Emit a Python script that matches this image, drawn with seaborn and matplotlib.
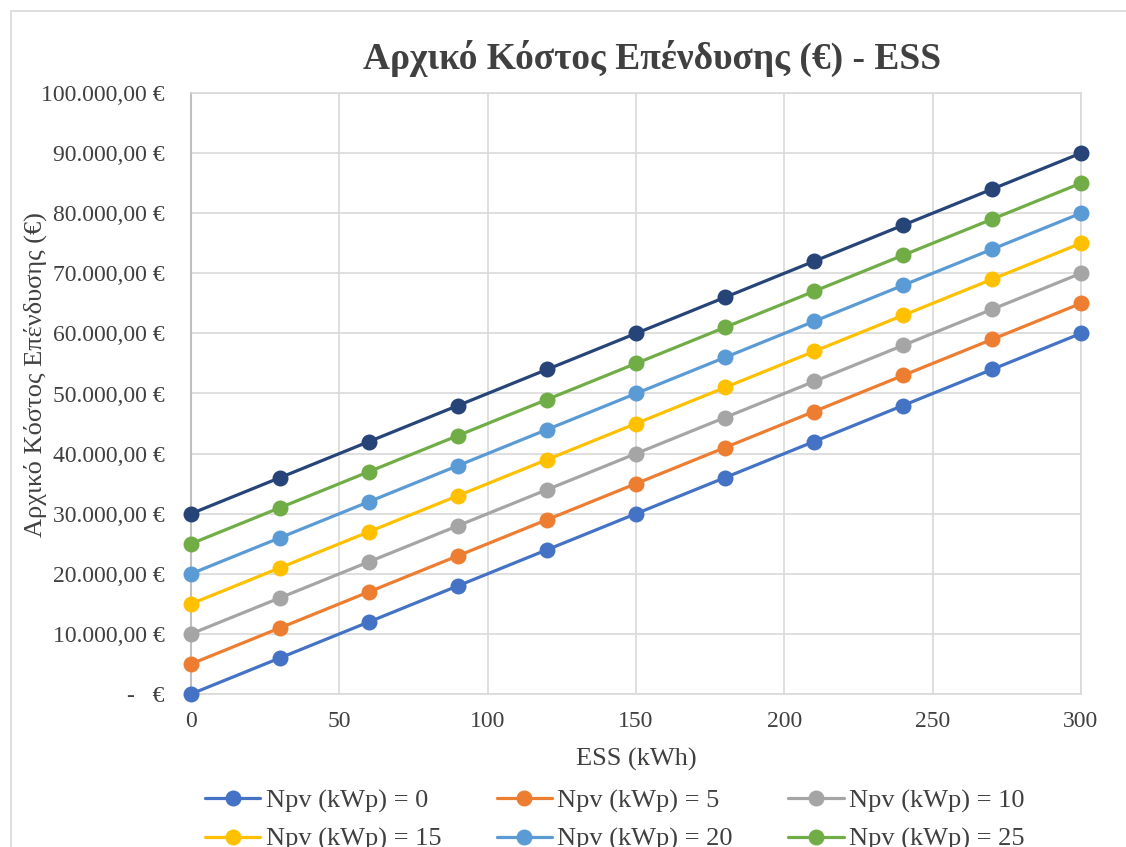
import matplotlib
matplotlib.use("Agg")
import matplotlib.pyplot as plt
import seaborn as sns
import pandas as pd
from matplotlib.ticker import FuncFormatter, MultipleLocator
from matplotlib.patches import Rectangle

# ---- data ----
ess_kwh = [0, 30, 60, 90, 120, 150, 180, 210, 240, 270, 300]
npv_labels = ["Npv (kWp) = 0", "Npv (kWp) = 5", "Npv (kWp) = 10", "Npv (kWp) = 15",
              "Npv (kWp) = 20", "Npv (kWp) = 25", "Npv (kWp) = 30"]
cost_npv0 = [0, 6000, 12000, 18000, 24000, 30000, 36000, 42000, 48000, 54000, 60000]
cost_npv5 = [5000, 11000, 17000, 23000, 29000, 35000, 41000, 47000, 53000, 59000, 65000]
cost_npv10 = [10000, 16000, 22000, 28000, 34000, 40000, 46000, 52000, 58000, 64000, 70000]
cost_npv15 = [15000, 21000, 27000, 33000, 39000, 45000, 51000, 57000, 63000, 69000, 75000]
cost_npv20 = [20000, 26000, 32000, 38000, 44000, 50000, 56000, 62000, 68000, 74000, 80000]
cost_npv25 = [25000, 31000, 37000, 43000, 49000, 55000, 61000, 67000, 73000, 79000, 85000]
cost_npv30 = [30000, 36000, 42000, 48000, 54000, 60000, 66000, 72000, 78000, 84000, 90000]
series = [cost_npv0, cost_npv5, cost_npv10, cost_npv15, cost_npv20, cost_npv25, cost_npv30]
colors = ["#4472C4", "#ED7D31", "#A5A5A5", "#FFC000", "#5B9BD5", "#70AD47", "#264478"]

title = "Αρχικό Κόστος Επένδυσης (€) - ESS"
xlabel = "ESS (kWh)"
ylabel = "Αρχικό Κόστος Επένδυσης (€)"

rows = []
for lab, vals in zip(npv_labels, series):
    for x, y in zip(ess_kwh, vals):
        rows.append({"ESS": x, "Cost": y, "Npv": lab})
df = pd.DataFrame(rows)

sns.set_theme(style="white")
plt.rcParams["font.family"] = ["Liberation Serif", "DejaVu Serif"]
txt = "#404040"

W, H = 1126, 847
fig = plt.figure(figsize=(W / 100, H / 100), dpi=100)
fig.patch.set_facecolor("white")
# chart-area border (cropped at right and bottom)
fig.patches.append(Rectangle((11 / W, -0.1), 1.2, 1 - 11 / H + 0.1, transform=fig.transFigure,
                             fill=False, edgecolor="#D9D9D9", linewidth=1.2, zorder=0))

ax = fig.add_axes([191 / W, 1 - 694 / H, (1081 - 191) / W, (694 - 93) / H])
sns.lineplot(data=df, x="ESS", y="Cost", hue="Npv", hue_order=npv_labels,
             palette=colors, marker="o", markersize=11.5, markeredgewidth=0,
             linewidth=2.3, ax=ax, legend=True, clip_on=False, zorder=3)

ax.set_xlim(0, 300)
ax.set_ylim(0, 100000)
ax.xaxis.set_major_locator(MultipleLocator(50))
ax.yaxis.set_major_locator(MultipleLocator(10000))


def eur(v, pos):
    if abs(v) < 1e-9:
        return "-   €"
    s = f"{v:,.2f}"
    s = s.replace(",", "X").replace(".", ",").replace("X", ".")
    return s + " €"


ax.yaxis.set_major_formatter(FuncFormatter(eur))
ax.grid(True, color="#D9D9D9", linewidth=1.2)
ax.set_axisbelow(True)
for side in ["top", "right", "bottom"]:
    ax.spines[side].set_color("#D9D9D9")
    ax.spines[side].set_linewidth(1.2)
ax.spines["left"].set_color("#BFBFBF")
ax.spines["left"].set_linewidth(1.5)
ax.tick_params(axis="both", length=0, labelsize=17, colors=txt)
ax.tick_params(axis="y", pad=19)
ax.tick_params(axis="x", pad=12)
ax.set_xlabel(xlabel, fontsize=19, color=txt, labelpad=12)
ax.set_ylabel(ylabel, fontsize=19, color=txt)
ax.yaxis.set_label_coords((47 - 191) / (1081 - 191), (694 - 375) / (694 - 93))

fig.text(652 / W, 1 - 58 / H, title, ha="center", va="center", fontsize=27,
         fontweight="bold", color=txt)

handles, labels = ax.get_legend_handles_labels()
ax.get_legend().remove()
# Only the first two legend rows are visible in the cropped reference
order = [0, 3, 1, 4, 2, 5]
leg = fig.legend([handles[i] for i in order], [labels[i] for i in order],
                 ncol=3, loc="upper left", bbox_to_anchor=(205 / W, 1 - 789 / H),
                 frameon=False, fontsize=19, handlelength=2.1, handletextpad=0.2,
                 columnspacing=2.1, labelspacing=0.55, borderpad=0, borderaxespad=0,
                 labelcolor=txt)

fig.savefig("out.png", dpi=100)
